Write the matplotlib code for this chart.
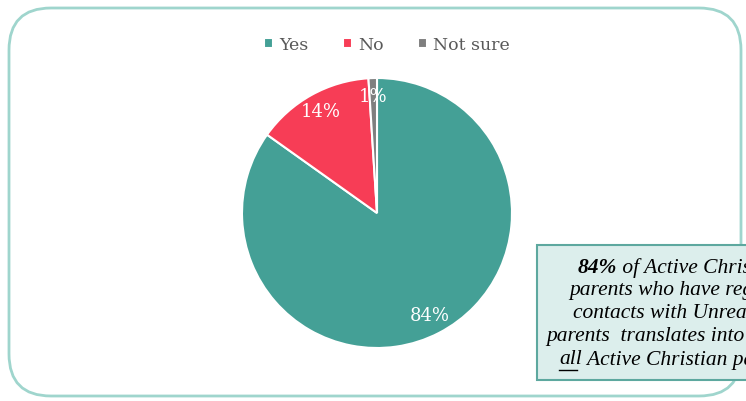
import matplotlib.pyplot as plt
from matplotlib.patches import FancyBboxPatch, Rectangle

# data
labels = ["Yes", "No", "Not sure"]
values = [84, 14, 1]
colors = ["#44A096", "#F73D56", "#7F7F7F"]

note_lines = ["of Active Christian", "parents who have regular",
              "contacts with Unreached", "parents  translates into",
              "Active Christian parents"]

W, H = 746, 401
fig = plt.figure(figsize=(W / 100, H / 100), dpi=100)
ax = fig.add_axes([0, 0, 1, 1])

# outer rounded frame
frame = FancyBboxPatch((9, 5), 732, 388, boxstyle="round,pad=0,rounding_size=42",
                       fc="white", ec="#9FD5CD", lw=2, zorder=0)
ax.add_patch(frame)

wedges, texts, autotexts = ax.pie(
    values, colors=colors, startangle=90, counterclock=False,
    center=(377, 188), radius=135, frame=True,
    wedgeprops=dict(edgecolor="white", linewidth=1.5),
    autopct=lambda p: f"{round(p * sum(values) / 100):.0f}%", pctdistance=0.86,
    textprops=dict(color="white", family="DejaVu Serif", fontsize=13))
ax.set_xlim(0, W)
ax.set_ylim(0, H)
ax.set_aspect("auto")
ax.axis("off")

fig.legend(wedges, labels, loc="center", bbox_to_anchor=(387 / W, 1 - 45 / H),
           ncol=3, frameon=False, handlelength=0.5, handleheight=0.5,
           handletextpad=0.35, columnspacing=2.0,
           prop=dict(family="DejaVu Serif", size=12.5), labelcolor="#595959")

# note box, cut off by right edge as in the original
ax.add_patch(Rectangle((537, 21), 260, 135, fc="#DCEEEC", ec="#5DA89F", lw=1.5, zorder=3))
note_font = dict(fontsize=15.5, family="Liberation Serif", style="italic", color="black", zorder=4)
starts = [578, 569, 573, 546, 559]
for i, (line, x0) in enumerate(zip(note_lines, starts)):
    y = H - 268 - i * 23
    if i == 0:
        t = ax.text(x0, y, "84%", ha="left", va="center", weight="bold", **note_font)
        ax.annotate(" " + line, xy=(1, 0.5), xycoords=t, ha="left", va="center", **note_font)
    elif i == 4:
        t = ax.text(x0, y, "all", ha="left", va="center", **note_font)
        ax.annotate(" " + line, xy=(1, 0.5), xycoords=t, ha="left", va="center", **note_font)
        ax.plot([x0, x0 + 18], [y - 10, y - 10], color="black", lw=1, zorder=4)
    else:
        ax.text(x0, y, line, ha="left", va="center", **note_font)

fig.savefig("out.png", dpi=100)
